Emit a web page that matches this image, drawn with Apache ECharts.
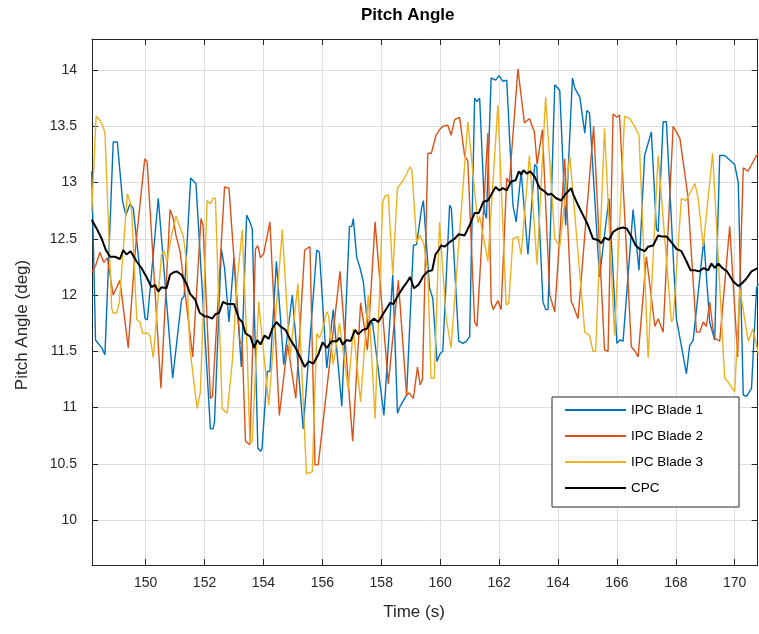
<!DOCTYPE html>
<html>
<head>
<meta charset="utf-8">
<script src="https://cdn.jsdelivr.net/npm/echarts@6/dist/echarts.min.js"></script>
<style>
html,body{margin:0;padding:0;background:#fff;}
#chart{width:759px;height:634px;}
</style>
</head>
<body>
<div id="chart"></div>
<script>
// ---- Data ----
const xTicks = [150,152,154,156,158,160,162,164,166,168,170];
const yTicks = [10,10.5,11,11.5,12,12.5,13,13.5,14];

const blade1T = [148.17,148.30,148.51,148.62,148.90,149.04,149.22,149.33,149.47,149.58,149.98,150.06,150.43,150.92,151.22,151.31,151.53,151.71,152.20,152.29,152.34,152.57,152.68,152.83,153.00,153.25,153.43,153.54,153.62,153.81,153.90,153.95,154.13,154.22,154.44,154.69,154.98,155.35,155.81,155.90,156.15,156.37,156.66,156.92,157.00,157.05,157.17,157.28,157.39,157.55,157.70,158.09,158.39,158.55,158.64,158.86,159.09,159.20,159.37,159.43,159.64,159.75,159.89,160.00,160.09,160.32,160.38,160.63,160.77,160.89,161.00,161.17,161.25,161.34,161.51,161.57,161.73,161.88,162.00,162.13,162.26,162.47,162.58,162.75,162.98,163.04,163.21,163.28,163.49,163.58,163.66,163.89,164.06,164.26,164.49,164.57,164.74,164.91,164.98,165.07,165.41,165.73,166.00,166.10,166.21,166.55,166.75,166.94,167.17,167.34,167.40,167.57,167.68,168.02,168.36,168.47,168.59,168.95,169.15,169.32,169.49,169.66,169.83,170.00,170.12,170.29,170.40,170.57,170.74,170.80];
const blade1V = [13.10,11.60,11.53,11.47,13.36,13.36,12.83,12.71,12.81,12.77,11.79,11.78,12.86,11.26,11.96,11.99,13.04,12.99,10.81,10.81,10.88,12.41,12.24,11.76,12.33,11.36,12.71,12.65,12.59,10.64,10.61,10.63,11.32,11.32,12.30,11.38,12.00,10.81,12.40,12.38,11.35,11.87,11.01,12.61,12.61,12.68,12.33,12.24,12.12,11.70,11.76,10.93,12.18,10.95,11.01,11.11,12.44,12.45,12.77,12.84,12.06,11.97,11.41,11.48,11.50,12.80,12.77,11.59,11.57,11.59,11.63,13.75,13.72,13.75,12.74,12.68,13.93,13.91,13.95,13.90,13.91,12.80,12.65,13.10,12.36,12.36,13.16,13.14,11.94,11.87,11.87,13.87,13.82,12.62,13.93,13.84,13.76,13.44,13.64,13.62,12.16,12.86,11.57,11.60,11.59,12.76,12.22,13.24,13.45,12.59,12.56,13.54,13.54,11.79,11.30,11.55,11.60,12.49,11.76,11.60,13.24,13.24,13.20,13.16,13.00,11.11,11.10,11.17,12.06,12.10];

const blade2T = [148.17,148.30,148.45,148.58,148.70,148.90,149.13,149.41,149.65,149.97,150.05,150.52,150.83,150.94,151.03,151.17,151.60,151.88,151.95,152.20,152.27,152.68,152.83,153.20,153.28,153.39,153.54,153.73,153.81,153.90,154.01,154.22,154.54,154.82,155.10,155.40,155.58,155.75,155.86,156.60,157.03,157.30,157.40,157.53,157.79,158.24,158.58,158.86,158.95,159.09,159.23,159.32,159.40,159.58,159.70,159.86,159.98,160.09,160.26,160.37,160.49,160.66,160.72,160.83,160.94,161.17,161.25,161.62,161.73,161.80,161.96,162.07,162.26,162.35,162.64,162.86,163.03,163.20,163.29,163.47,163.72,163.89,163.95,164.23,164.45,164.51,164.68,165.21,165.58,165.70,165.87,166.00,166.09,166.49,166.64,166.72,167.00,167.29,167.40,167.57,167.91,168.02,168.14,168.40,168.70,168.81,168.93,169.04,169.15,169.30,169.49,169.83,170.10,170.29,170.45,170.74,170.80];
const blade2V = [12.20,12.26,12.38,12.29,12.33,12.00,12.13,11.53,12.40,13.21,13.19,11.17,12.76,12.68,12.53,12.39,11.45,12.68,12.62,11.08,11.10,12.96,12.95,11.59,11.56,10.70,10.67,12.41,12.44,12.33,12.37,12.65,10.93,11.56,11.08,12.40,12.43,10.49,10.49,12.21,10.70,11.93,11.76,11.51,12.65,11.21,12.13,11.11,11.13,11.08,11.36,11.20,11.25,13.26,13.26,13.42,13.47,13.50,13.51,13.42,13.56,13.58,13.57,13.24,13.19,11.76,11.72,13.44,11.94,11.87,11.95,11.87,13.04,13.00,14.01,13.53,13.57,13.45,13.16,13.47,12.00,11.85,11.84,13.21,11.94,11.91,11.79,13.50,11.51,11.50,13.61,13.58,13.60,11.54,11.49,11.45,12.34,11.72,11.79,11.67,13.50,13.45,13.39,12.90,11.67,11.67,11.76,11.72,11.94,11.62,11.59,12.61,11.45,13.13,13.10,13.24,13.26];

const blade3T = [148.17,148.32,148.43,148.54,148.62,148.85,148.90,149.02,149.11,149.38,149.47,149.53,149.70,149.81,149.90,150.06,150.15,150.26,150.32,150.54,150.62,150.73,150.88,151.03,151.14,151.28,151.39,151.50,151.75,151.86,152.09,152.20,152.29,152.37,152.60,152.77,152.94,153.10,153.28,153.45,153.54,153.62,153.84,154.18,154.64,154.90,155.17,155.46,155.66,155.81,155.90,156.01,156.15,156.21,156.37,156.58,156.88,157.05,157.30,157.56,157.79,158.05,158.13,158.24,158.39,158.55,158.75,158.98,159.04,159.20,159.32,159.45,159.58,159.69,159.80,159.98,160.20,160.37,160.43,160.94,161.00,161.28,161.34,161.62,161.96,162.24,162.33,162.47,162.64,162.75,163.03,163.29,163.58,163.89,164.06,164.40,164.91,165.07,165.19,165.28,165.58,165.92,166.26,166.43,166.60,166.75,167.06,167.40,167.85,167.91,168.19,168.34,168.65,168.76,168.93,169.25,169.66,169.77,170.00,170.05,170.17,170.46,170.62,170.80];
const blade3V = [12.74,13.59,13.56,13.51,13.44,11.88,11.84,11.84,11.94,12.90,12.83,12.74,11.78,11.76,11.66,11.66,11.64,11.44,11.45,12.36,12.39,12.30,12.53,12.70,12.62,12.52,12.30,11.53,10.99,11.14,12.84,12.81,12.86,12.86,10.99,10.95,11.40,12.10,12.58,11.50,10.68,10.70,11.94,11.02,12.58,11.44,12.10,10.41,10.43,11.66,11.62,11.70,11.85,11.82,11.38,11.75,11.16,11.70,11.05,12.00,10.90,12.83,12.88,12.89,12.18,12.95,13.02,13.14,13.11,12.47,12.53,12.45,12.20,11.26,11.26,12.65,11.80,11.53,11.52,13.54,13.54,12.64,12.70,12.30,13.69,11.91,11.93,12.50,12.52,12.36,13.24,12.27,13.76,12.50,12.43,13.24,11.67,11.64,11.50,11.50,13.48,11.64,13.59,13.57,13.50,13.42,11.44,13.24,11.76,11.79,12.86,12.84,12.99,12.86,12.43,13.26,11.26,11.23,11.14,11.13,12.06,11.59,11.70,11.48];

const cpcT = [148.17,148.34,148.51,148.65,148.79,148.96,149.13,149.24,149.35,149.49,149.69,149.86,150.03,150.20,150.32,150.43,150.54,150.71,150.83,150.94,151.05,151.22,151.39,151.51,151.68,151.84,152.01,152.09,152.26,152.37,152.49,152.63,152.77,153.00,153.17,153.28,153.39,153.56,153.68,153.79,153.90,154.04,154.18,154.30,154.44,154.58,154.75,154.92,155.09,155.26,155.40,155.54,155.69,155.86,156.01,156.15,156.32,156.49,156.58,156.69,156.83,156.96,157.11,157.22,157.37,157.51,157.62,157.75,157.90,158.01,158.18,158.30,158.41,158.58,158.75,158.89,158.98,159.11,159.26,159.43,159.58,159.73,159.84,159.95,160.03,160.15,160.32,160.49,160.63,160.83,161.00,161.17,161.31,161.47,161.62,161.73,161.88,162.01,162.13,162.26,162.41,162.56,162.67,162.75,162.83,162.94,163.06,163.21,163.38,163.55,163.66,163.77,163.94,164.11,164.23,164.34,164.45,164.51,164.68,164.85,165.02,165.19,165.36,165.47,165.58,165.73,165.87,166.04,166.21,166.34,166.49,166.64,166.77,166.95,167.06,167.23,167.40,167.51,167.68,167.85,168.02,168.19,168.36,168.50,168.65,168.79,168.95,169.10,169.21,169.32,169.44,169.58,169.74,169.95,170.12,170.23,170.38,170.57,170.78];
const cpcV = [12.67,12.59,12.50,12.40,12.34,12.34,12.32,12.40,12.36,12.39,12.30,12.24,12.16,12.07,12.09,12.03,12.07,12.06,12.18,12.20,12.21,12.18,12.10,12.01,11.96,11.84,11.81,11.81,11.79,11.83,11.84,11.94,11.92,11.92,11.79,11.76,11.66,11.63,11.53,11.60,11.56,11.64,11.61,11.70,11.76,11.72,11.69,11.60,11.53,11.44,11.36,11.41,11.39,11.47,11.58,11.53,11.59,11.59,11.62,11.56,11.60,11.59,11.69,11.65,11.69,11.70,11.76,11.79,11.76,11.81,11.88,11.93,11.92,12.00,12.07,12.12,12.16,12.06,12.09,12.17,12.21,12.22,12.36,12.40,12.44,12.43,12.47,12.50,12.54,12.53,12.62,12.73,12.73,12.83,12.84,12.89,12.96,12.93,12.95,12.93,13.01,13.02,13.10,13.07,13.11,13.08,13.10,13.05,12.95,12.92,12.89,12.90,12.86,12.84,12.89,12.92,12.95,12.90,12.80,12.71,12.62,12.50,12.49,12.46,12.51,12.49,12.56,12.59,12.60,12.59,12.52,12.44,12.41,12.39,12.43,12.44,12.53,12.52,12.52,12.47,12.41,12.39,12.30,12.22,12.22,12.21,12.24,12.22,12.28,12.24,12.28,12.24,12.21,12.12,12.08,12.10,12.14,12.21,12.24];

const seriesNames = ['IPC Blade 1','IPC Blade 2','IPC Blade 3','CPC'];
const seriesColors = ['#0072BD','#D95319','#EDB120','#000000'];

function zip(t, v){ return t.map((x,i)=>[x, v[i]]); }

const FONT = '"Liberation Sans", Arial, Helvetica, sans-serif';
const AX = '#262626';

const chart = echarts.init(document.getElementById('chart'), null, {renderer:'canvas'});

function xAxisCfg(pos, show){
  return {
    type:'value', position:pos, min:148.18, max:170.78,
    axisLine:{show:true, onZero:false, lineStyle:{color:AX, width:1}},
    axisTick:{show:true, inside:true, length:6, customValues:xTicks, lineStyle:{color:AX, width:1}},
    axisLabel:{show:show, customValues:xTicks, color:AX, fontSize:14, fontFamily:FONT, margin:11},
    splitLine:{show:show, lineStyle:{color:'#dedede', width:1}}
  };
}
function yAxisCfg(pos, show){
  return {
    type:'value', position:pos, min:9.6, max:14.276,
    axisLine:{show:true, onZero:false, lineStyle:{color:AX, width:1}},
    axisTick:{show:true, inside:true, length:6, customValues:yTicks, lineStyle:{color:AX, width:1}},
    axisLabel:{show:show, customValues:yTicks, color:AX, fontSize:14, fontFamily:FONT, margin:15},
    splitLine:{show:show, lineStyle:{color:'#dedede', width:1}}
  };
}

const dataSets = [zip(blade1T, blade1V), zip(blade2T, blade2V), zip(blade3T, blade3V), zip(cpcT, cpcV)];

chart.setOption({
  animation:false,
  backgroundColor:'#ffffff',
  title:{
    text:'Pitch Angle', left:356, top:2,
    textStyle:{fontSize:17, fontWeight:'bold', color:'#000', fontFamily:FONT}
  },
  grid:{left:92, right:1.3, top:39, bottom:69, containLabel:false},
  xAxis:[xAxisCfg('bottom', true), xAxisCfg('top', false)],
  yAxis:[yAxisCfg('left', true), yAxisCfg('right', false)],
  legend:{
    orient:'vertical', left:552, top:397,
    padding:[6,36,12,12], itemWidth:61, itemHeight:14, itemGap:12,
    borderColor:AX, borderWidth:1, backgroundColor:'#fff', borderRadius:0,
    itemStyle:{opacity:0},
    textStyle:{fontSize:13.5, color:'#000', fontFamily:FONT},
    data:seriesNames
  },
  graphic:[
    {type:'text', x:414, y:612, style:{text:'Time (s)', fill:AX, font:'17px '+FONT, textAlign:'center', textVerticalAlign:'middle'}},
    {type:'text', x:22.5, y:325, rotation:Math.PI/2, style:{text:'Pitch Angle (deg)', fill:AX, font:'17px '+FONT, textAlign:'center', textVerticalAlign:'middle'}}
  ],
  series: seriesNames.map((name, i) => ({
    name: name, type:'line', xAxisIndex:0, yAxisIndex:0,
    data: dataSets[i], symbol:'none', smooth:false,
    lineStyle:{color:seriesColors[i], width: i===3 ? 2 : 1.4},
    itemStyle:{color:seriesColors[i]},
    z: 2 + i
  }))
});
</script>
</body>
</html>
